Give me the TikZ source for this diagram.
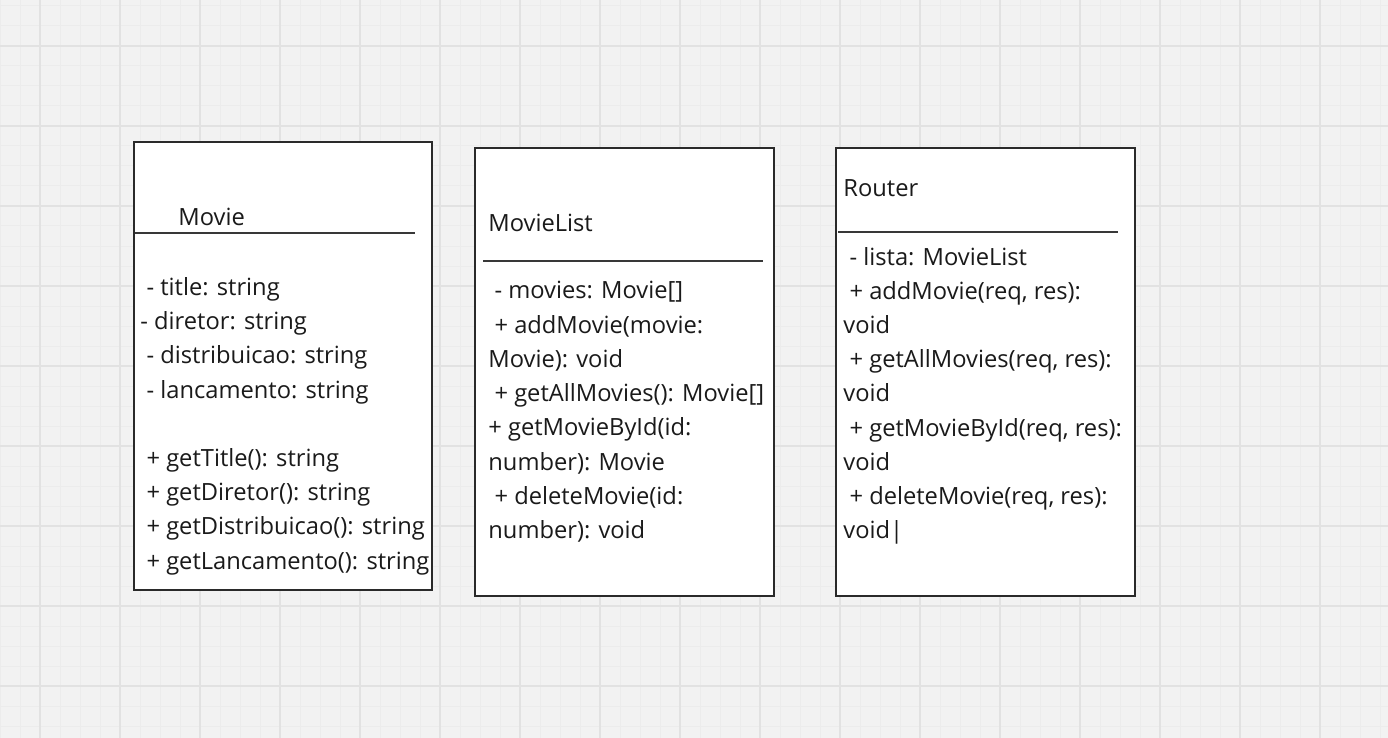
\documentclass[tikz,border=0pt]{standalone}
\usepackage{fontspec}
\setmainfont{Open Sans}
\newcommand\lsp{\hspace*{0.26em}}
\definecolor{bg}{HTML}{F2F2F2}
\definecolor{minorgrid}{HTML}{ECECEC}
\definecolor{majorgrid}{HTML}{E2E2E2}
\definecolor{ink}{HTML}{1A1A1A}
\definecolor{boxline}{HTML}{2A2A2A}
\definecolor{sepline}{HTML}{383838}
\tikzset{
  classbox/.style={draw=boxline, line width=1pt, fill=white, inner sep=0pt},
  sep/.style={draw=sepline, line width=0.8pt},
  txt/.style={anchor=base west, inner sep=0pt, text=ink, font=\fontsize{11.85}{14}\selectfont},
}
\begin{document}
\begin{tikzpicture}[x=0.5pt,y=-0.5pt]
\useasboundingbox (0,0) rectangle (1388,738);
\fill[bg] (0,0) rectangle (1388,738);
% grid
\foreach \x in {0,20,...,1380} \draw[minorgrid, line width=0.5pt] (\x,0) -- (\x,738);
\foreach \y in {6,26,...,730} \draw[minorgrid, line width=0.5pt] (0,\y) -- (1388,\y);
\foreach \x in {40,120,...,1380} \draw[majorgrid, line width=0.9pt] (\x,0) -- (\x,738);
\foreach \y in {46,126,...,730} \draw[majorgrid, line width=0.9pt] (0,\y) -- (1388,\y);

% boxes
\node[classbox, minimum width=149pt, minimum height=224pt] (movie) at (283,366) {};
\node[classbox, minimum width=149.5pt, minimum height=224pt] (movielist) at (624.5,372) {};
\node[classbox, minimum width=149.5pt, minimum height=224pt] (router) at (985.5,372) {};

% separators
\draw[sep] (135,233) -- (415,233);
\draw[sep] (483,261) -- (763,261);
\draw[sep] (838,232) -- (1118,232);

% titles
\node[txt] (movietitle) at (178,226) {Movie};
\node[txt] (movielisttitle) at (488,231) {MovieList};
\node[txt] (routertitle) at (843,197) {Router};

% Movie members
\foreach \t [count=\i] in {{\lsp- title: string},{- diretor: string},{\lsp- distribuicao: string},{\lsp- lancamento: string},{},{\lsp+ getTitle(): string},{\lsp+ getDiretor(): string},{\lsp+ getDistribuicao(): string},{\lsp+ getLancamento(): string}}
  \node[txt] (mv\i) at (140,{295.5+34.2*(\i-1)}) {\t};

% MovieList members
\foreach \t [count=\i] in {{\lsp- movies: Movie[]},{\lsp+ addMovie(movie:},{Movie): void},{\lsp+ getAllMovies(): Movie[]},{+ getMovieById(id:},{number): Movie},{\lsp+ deleteMovie(id:},{number): void}}
  \node[txt] (ml\i) at (488,{299+34.2*(\i-1)}) {\t};

% Router members
\foreach \t [count=\i] in {{\lsp- lista: MovieList},{\lsp+ addMovie(req, res):},{void},{\lsp+ getAllMovies(req, res):},{void},{\lsp+ getMovieById(req, res):},{void},{\lsp+ deleteMovie(req, res):},{void|}}
  \node[txt] (rt\i) at (843,{265+34.2*(\i-1)}) {\t};
\end{tikzpicture}
\end{document}
